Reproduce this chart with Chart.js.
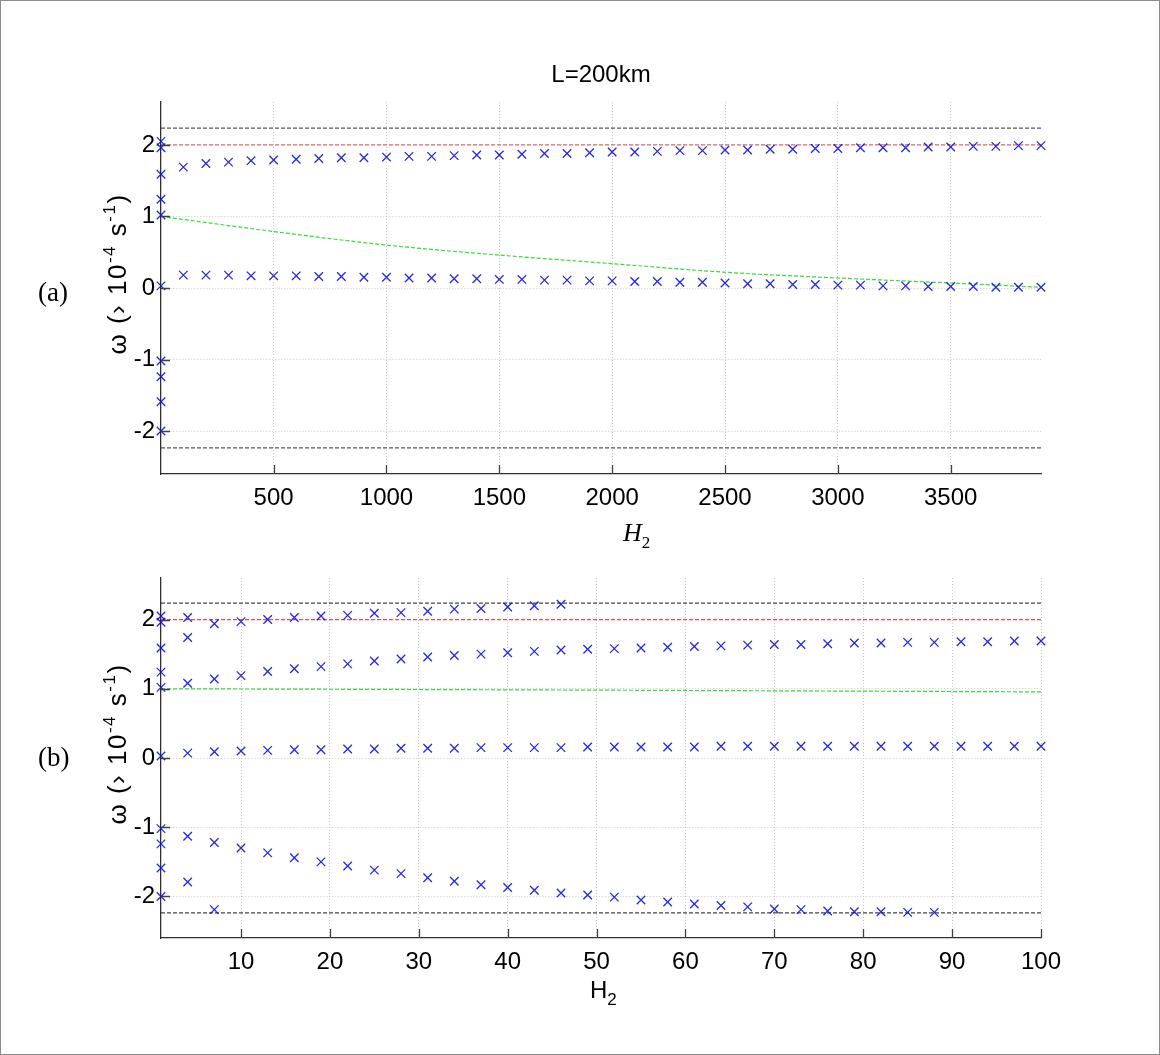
<!DOCTYPE html>
<html><head><meta charset="utf-8">
<script src="https://cdn.jsdelivr.net/npm/chart.js@4.4.0/dist/chart.umd.min.js"></script>
<style>
html,body{margin:0;padding:0;background:#fff;}
#page{position:relative;width:1160px;height:1055px;overflow:hidden;background:#fff}
#frame{position:absolute;left:0;top:0;width:1160px;height:1055px;box-sizing:border-box;border:1px solid #8c8c8c;pointer-events:none}
canvas{position:absolute;left:0}
.lbl{position:absolute;white-space:nowrap;color:#000;line-height:1}
.sans{font-family:"Liberation Sans",Arial,sans-serif}
.serif{font-family:"Liberation Serif","DejaVu Serif",serif}
.sup{font-size:17px;position:relative;top:-11px}
.sub{font-size:17px;position:relative;top:7px}
.ylab{letter-spacing:1.5px}
</style></head>
<body>
<div id="page">
  <canvas id="c1" width="1160" height="530" style="top:0"></canvas>
  <canvas id="c2" width="1160" height="515" style="top:540px"></canvas>
  <div class="lbl sans" style="left:601px;top:62px;font-size:24px;transform:translateX(-50%)">L=200km</div>
  <div class="lbl serif" style="left:38px;top:279px;font-size:27px">(a)</div>
  <div class="lbl serif" style="left:38px;top:744px;font-size:27px">(b)</div>
  <div class="lbl serif" style="left:623px;top:520px;font-size:26px"><i>H</i><span class="sub" style="font-style:normal">2</span></div>
  <div class="lbl sans" style="left:590px;top:978px;font-size:24px">H<span class="sub">2</span></div>
  <div class="lbl sans ylab" style="left:117px;top:274px;font-size:26px;transform:translate(-50%,-50%) rotate(-90deg)">ω (› 10<span class="sup">-4</span> s<span class="sup">-1</span>)</div>
  <div class="lbl sans ylab" style="left:117px;top:744px;font-size:26px;transform:translate(-50%,-50%) rotate(-90deg)">ω (› 10<span class="sup">-4</span> s<span class="sup">-1</span>)</div>
  <div id="frame"></div>
</div>
<script>
// ---------- DATA ----------
// shared first column (H2 = 1)
const firstColH = [1,1,1,1,1,1,1,1,1,1];
const firstColOmega = [2.05,1.96,1.59,1.24,1.02,0.03,-1.02,-1.24,-1.59,-2.0];

// panel (a)
const topXRange = [1, 3900];
const topXTicks = [500,1000,1500,2000,2500,3000,3500];
const yTicks = [-2,-1,0,1,2];
const topH = [100,200,300,400,500,600,700,800,900,1000,1100,1200,1300,1400,1500,1600,1700,1800,1900,2000,
  2100,2200,2300,2400,2500,2600,2700,2800,2900,3000,3100,3200,3300,3400,3500,3600,3700,3800,3900];
const topUpper = [1.69,1.74,1.76,1.78,1.79,1.80,1.81,1.82,1.82,1.83,1.84,1.84,1.85,1.86,1.86,1.87,1.88,1.88,1.89,1.90,
  1.90,1.91,1.92,1.92,1.93,1.93,1.94,1.94,1.95,1.95,1.96,1.96,1.96,1.97,1.97,1.98,1.98,1.99,1.99];
const topLower = [0.18,0.18,0.18,0.17,0.17,0.17,0.16,0.16,0.15,0.15,0.14,0.14,0.13,0.13,0.12,0.12,0.11,0.11,0.10,0.10,
  0.09,0.09,0.08,0.08,0.07,0.06,0.06,0.05,0.05,0.04,0.04,0.03,0.03,0.02,0.02,0.02,0.01,0.01,0.01];
const topGreenH = [1,500,1000,1500,2000,2500,3000,3500,3900];
const topGreen = [1.0,0.79,0.60,0.46,0.34,0.22,0.14,0.07,0.01];

// panel (b)
const botXRange = [1, 100];
const botXTicks = [10,20,30,40,50,60,70,80,90,100];
const botHA = [4,7,10,13,16,19,22,25,28,31,34,37,40,43,46];
const botA = [2.03,1.94,1.97,2.00,2.03,2.05,2.06,2.09,2.10,2.12,2.15,2.16,2.18,2.20,2.22];
const botHB = [4,7,10,13,16,19,22,25,28,31,34,37,40,43,46,49,52,55,58,61,64,67,70,73,76,79,82,85,88,91,94,97,100];
const botB = [1.08,1.14,1.19,1.25,1.29,1.32,1.36,1.40,1.43,1.46,1.48,1.50,1.52,1.54,1.56,1.57,1.58,1.59,1.60,1.61,
  1.62,1.63,1.64,1.64,1.65,1.66,1.66,1.67,1.67,1.68,1.68,1.69,1.69];
const botC = [0.07,0.09,0.10,0.11,0.12,0.12,0.13,0.13,0.14,0.14,0.14,0.15,0.15,0.15,0.15,0.16,0.16,0.16,0.16,0.16,
  0.17,0.17,0.17,0.17,0.17,0.17,0.17,0.17,0.17,0.17,0.17,0.17,0.17];
const botHD = [4,7,10,13,16,19,22,25,28,31,34,37,40,43,46,49,52,55,58,61,64,67,70,73,76,79,82,85,88];
const botD = [-1.13,-1.22,-1.30,-1.37,-1.44,-1.50,-1.56,-1.62,-1.67,-1.73,-1.78,-1.83,-1.87,-1.91,-1.95,-1.98,
  -2.01,-2.05,-2.08,-2.11,-2.13,-2.15,-2.18,-2.19,-2.21,-2.22,-2.22,-2.23,-2.23];
const botExtraH = [4,4,7];
const botExtra = [1.74,-1.79,-2.19];
const botGreenH = [1,28,61,100];
const botGreen = [1.0,0.99,0.975,0.955];

// reference levels
const redLevel = 2.0;
const blackLevels = [2.236,-2.236];

// ---------- BUILD ----------
const pts = (xs, ys) => xs.map((x,i)=>({x, y: ys[i]}));
const hline = (range, v) => [{x:range[0], y:v},{x:range[1], y:v}];
const MARK = 'rgba(15,15,215,0.9)';

function markerSet(data){
  return {data, showLine:false, pointStyle:'crossRot', pointRadius:6, pointHoverRadius:6,
    borderColor:MARK, backgroundColor:MARK, borderWidth:1.3, clip:false, order:0};
}
function lineSet(data, color, tension){
  return {data, showLine:true, pointRadius:0, pointHoverRadius:0, borderColor:color, borderWidth:1.2,
    borderDash:[4,2], tension: tension||0, cubicInterpolationMode: tension? 'monotone':'default', fill:false, order:1};
}

const inwardTicks = {
  id:'inwardTicks',
  afterDraw(chart){
    const {ctx, chartArea:a, scales:{x,y}} = chart;
    ctx.save();
    ctx.strokeStyle = '#404040'; ctx.lineWidth = 1.3;
    ctx.beginPath();
    x.ticks.forEach(t=>{ const p = Math.round(x.getPixelForValue(t.value))+0.5; ctx.moveTo(p,a.bottom); ctx.lineTo(p,a.bottom-9); });
    y.ticks.forEach(t=>{ const p = Math.round(y.getPixelForValue(t.value))+0.5; ctx.moveTo(a.left,p); ctx.lineTo(a.left+9,p); });
    ctx.stroke();
    ctx.restore();
  }
};

function makeChart(id, datasets, xr, xt, pad){
  return new Chart(document.getElementById(id), {
    type:'scatter',
    data:{datasets},
    options:{
      responsive:false, animation:false, devicePixelRatio:1,
      layout:{padding:pad},
      plugins:{legend:{display:false}, tooltip:{enabled:false}, title:{display:false}},
      scales:{
        x:{type:'linear', min:xr[0], max:xr[1],
          afterBuildTicks:s=>{ s.ticks = xt.map(v=>({value:v})); },
          afterFit:s=>{ s.height = 40; },
          grid:{color:'#c8c8c8', lineWidth:1, drawTicks:false},
          border:{display:true, color:'#303030', width:1.3, dash:[1,2]},
          ticks:{color:'#000', padding:10, maxRotation:0, autoSkip:false, callback:v=>String(v),
            font:{family:'"Liberation Sans", Arial, sans-serif', size:24}}
        },
        y:{type:'linear', min:-2.6, max:2.6,
          afterBuildTicks:s=>{ s.ticks = yTicks.map(v=>({value:v})); },
          afterFit:s=>{ s.width = 50; },
          grid:{color:'#c8c8c8', lineWidth:1, drawTicks:false},
          border:{display:true, color:'#303030', width:1.3, dash:[1,2]},
          ticks:{color:'#000', padding:6, autoSkip:false, callback:v=>String(v),
            font:{family:'"Liberation Sans", Arial, sans-serif', size:24}}
        }
      }
    },
    plugins:[inwardTicks]
  });
}

makeChart('c1', [
  markerSet(pts(firstColH, firstColOmega)),
  markerSet(pts(topH, topUpper)),
  markerSet(pts(topH, topLower)),
  lineSet(hline(topXRange, blackLevels[0]), '#555555'),
  lineSet(hline(topXRange, blackLevels[1]), '#555555'),
  lineSet(hline(topXRange, redLevel), '#e06a6a'),
  lineSet(pts(topGreenH, topGreen), '#33dd33', 0.4)
], topXRange, topXTicks, {left:111, right:119, top:102, bottom:16});

makeChart('c2', [
  markerSet(pts(firstColH, firstColOmega)),
  markerSet(pts(botHA, botA)),
  markerSet(pts(botHB, botB)),
  markerSet(pts(botHB, botC)),
  markerSet(pts(botHD, botD)),
  markerSet(pts(botExtraH, botExtra)),
  lineSet(hline(botXRange, blackLevels[0]), '#444444'),
  lineSet(hline(botXRange, blackLevels[1]), '#444444'),
  lineSet(hline(botXRange, redLevel), '#d85555'),
  lineSet(pts(botGreenH, botGreen), '#33dd33', 0.4)
], botXRange, botXTicks, {left:111, right:119, top:38, bottom:77});
</script>
</body></html>
